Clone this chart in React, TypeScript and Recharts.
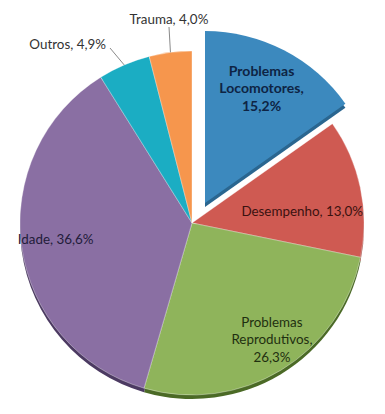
import { PieChart, Pie, Cell } from 'recharts'

const categories = ['Problemas Locomotores', 'Desempenho', 'Problemas Reprodutivos', 'Idade', 'Outros', 'Trauma']
const values = [15.2, 13.0, 26.3, 36.6, 4.9, 4.0]

const COLORS = ['#3c89be', '#cf5a52', '#8fb45b', '#8a6fa3', '#1badc3', '#f6964d']
const RIM = ['#2a6690', '#963c36', '#4b6a26', '#4c3a62', '#117e8f', '#b86a30']
const TEXT = ['#0e2444', '#3b1210', '#1f3010', '#221c3a', '#333333', '#333333']

const W = 385
const H = 414
const CX = 192
const CY = 223
const R = 172
const EXPLODE = { dx: 13, dy: -20 }
const RAD = Math.PI / 180
const FONT = 'Lato, "Open Sans", sans-serif'
const FS = 13.4

// label placement per slice (relative to the main pie centre): inside labels use
// rf (fraction of radius) + nudge, outside labels draw a leader line
const LAYOUT = [
    { rf: 0.88, dx: 0, dy: 0, wrap: true, bold: true },
    { rf: 0.655, dx: 0, dy: 12, wrap: false },
    { rf: 0.82, dx: 7, dy: -4, wrap: true },
    { rf: 0.8, dx: 0, dy: -3, wrap: false },
    { outside: true, lineTo: [110, 48], text: [106, 44], anchor: 'end' },
    { outside: true, lineTo: [169, 27], text: [169, 19], anchor: 'middle' },
]

const data = categories.map((name, i) => ({ name, value: values[i] }))

const fmt = (v: number) => v.toFixed(1).replace('.', ',') + '%'

function renderLabel(props: any) {
    const { midAngle, index } = props
    const lay: any = LAYOUT[index]
    const cos = Math.cos(-midAngle * RAD)
    const sin = Math.sin(-midAngle * RAD)
    const name = categories[index]
    const val = fmt(values[index])

    if (lay.outside) {
        const x0 = CX + R * cos
        const y0 = CY + R * sin
        return (
            <g key={`lbl-${index}`}>
                <line x1={x0} y1={y0} x2={lay.lineTo[0]} y2={lay.lineTo[1]} stroke="#8a8a8a" strokeWidth={1} />
                <text x={lay.text[0]} y={lay.text[1]} dy="0.35em" textAnchor={lay.anchor} fill={TEXT[index]}
                    fontSize={FS} fontFamily={FONT}>
                    {`${name}, ${val}`}
                </text>
            </g>
        )
    }

    const x = CX + R * lay.rf * cos + lay.dx
    const y = CY + R * lay.rf * sin + lay.dy
    const words = name.split(' ')
    const lines = lay.wrap ? [...words.slice(0, -1), words[words.length - 1] + ',', val] : [`${name}, ${val}`]
    const lh = 17.5
    const top = y - ((lines.length - 1) * lh) / 2
    return (
        <text key={`lbl-${index}`} x={x} y={top} textAnchor="middle" fill={TEXT[index]}
            fontSize={lay.bold ? 14 : FS} fontWeight={lay.bold ? 700 : 400} fontFamily={FONT}>
            {lines.map((l, k) => (
                <tspan key={k} x={x} y={top + k * lh} dy="0.35em">{l}</tspan>
            ))}
        </text>
    )
}

export default function App() {
    return (
        <div style={{ position: 'fixed', left: 0, top: 0, width: W, height: H, background: '#fff' }}>
            <PieChart width={W} height={H} margin={{ top: 0, right: 0, bottom: 0, left: 0 }}>
                {/* 3d rim of the main pie */}
                <Pie data={data} dataKey="value" cx={CX} cy={CY + 4} outerRadius={R} startAngle={90} endAngle={-270}
                    isAnimationActive={false} stroke="none">
                    {data.map((_, i) => (
                        <Cell key={`rim-${i}`} fill={i === 0 ? 'transparent' : RIM[i]} />
                    ))}
                </Pie>
                <Pie data={data} dataKey="value" cx={CX} cy={CY} outerRadius={R} startAngle={90} endAngle={-270}
                    isAnimationActive={false} stroke="rgba(255,255,255,0.35)" strokeWidth={1}>
                    {data.map((_, i) => (
                        <Cell key={`main-${i}`} fill={i === 0 ? 'transparent' : COLORS[i]}
                            stroke={i === 0 ? 'none' : 'rgba(255,255,255,0.35)'} />
                    ))}
                </Pie>
                {/* exploded slice */}
                <Pie data={data} dataKey="value" cx={CX + EXPLODE.dx} cy={CY + EXPLODE.dy + 4} outerRadius={R}
                    startAngle={90} endAngle={-270} isAnimationActive={false} stroke="none">
                    {data.map((_, i) => (
                        <Cell key={`erim-${i}`} fill={i === 0 ? RIM[0] : 'transparent'} />
                    ))}
                </Pie>
                <Pie data={data} dataKey="value" cx={CX + EXPLODE.dx} cy={CY + EXPLODE.dy} outerRadius={R}
                    startAngle={90} endAngle={-270} isAnimationActive={false} stroke="none"
                    label={renderLabel} labelLine={false}>
                    {data.map((_, i) => (
                        <Cell key={`ex-${i}`} fill={i === 0 ? COLORS[0] : 'transparent'} />
                    ))}
                </Pie>
            </PieChart>
        </div>
    )
}
